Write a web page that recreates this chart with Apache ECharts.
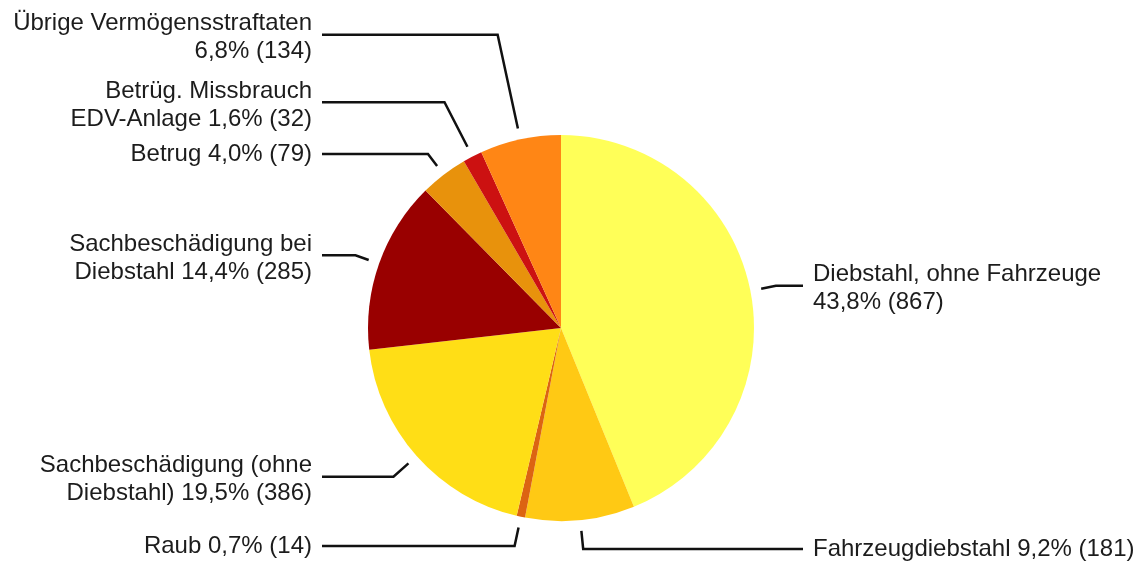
<!DOCTYPE html>
<html>
<head>
<meta charset="utf-8">
<script src="https://cdn.jsdelivr.net/npm/echarts@6/dist/echarts.min.js"></script>
<style>
  html, body { margin: 0; padding: 0; background: #ffffff; }
  #chart { width: 1143px; height: 564px; }
</style>
</head>
<body>
<div id="chart"></div>
<script>
// Offence categories (line break = where the label wraps)
const categories = [
  'Diebstahl, ohne Fahrzeuge',
  'Fahrzeugdiebstahl',
  'Raub',
  'Sachbeschädigung (ohne\nDiebstahl)',
  'Sachbeschädigung bei\nDiebstahl',
  'Betrug',
  'Betrüg. Missbrauch\nEDV-Anlage',
  'Übrige Vermögensstraftaten'
];
// Number of cases per category
const counts = [867, 181, 14, 386, 285, 79, 32, 134];
// Whether the share goes on its own line below the name
const shareOnNewLine = [true, false, false, false, false, false, false, true];

const sliceColors = ['#ffff58', '#ffc914', '#dc6412', '#ffde16', '#990000', '#e8920c', '#cc1111', '#ff8615'];
// radial part of each leader line (px beyond the rim)
const leaderLengths = [26, 29, 30, 31, 25, 26, 61, 107];

const CENTER = [561, 328];
const RADIUS = 193;
const RIM_GAP = 11;          // leader lines start a little outside the rim
const LEFT_TEXT_EDGE = 312;  // right edge of the labels on the left
const RIGHT_TEXT_EDGE = 813; // left edge of the labels on the right
const TEXT_GAP = 10;
const TWO_LINE_SHIFT = 3;    // two-line labels sit slightly below their leader

const total = counts.reduce((s, v) => s + v, 0);
const fmtShare = v => (v / total * 100).toFixed(1).replace('.', ',') + '%';

const data = categories.map((name, i) => ({
  name: name,
  value: counts[i],
  itemStyle: { color: sliceColors[i] },
  labelLine: { length: leaderLengths[i], length2: 20 }
}));

const chart = echarts.init(document.getElementById('chart'), null, { renderer: 'canvas' });
chart.setOption({
  animation: false,
  backgroundColor: '#ffffff',
  series: [{
    type: 'pie',
    center: CENTER,
    radius: RADIUS,
    startAngle: 90,
    clockwise: true,
    avoidLabelOverlap: false,
    silent: true,
    emphasis: { disabled: true },
    data: data,
    label: {
      show: true,
      position: 'outer',
      color: '#1c1c1c',
      fontFamily: 'Liberation Sans, Arial, sans-serif',
      fontSize: 24,
      lineHeight: 28,
      formatter: p => {
        const i = p.dataIndex;
        return p.name + (shareOnNewLine[i] ? '\n' : ' ') + fmtShare(p.value) + ' (' + p.value + ')';
      }
    },
    labelLine: {
      show: true,
      smooth: false,
      lineStyle: { color: '#111111', width: 2.5 }
    },
    labelLayout: function (p) {
      const pts = p.labelLinePoints;
      if (!pts) return {};
      const a = pts[0], b = pts[1];
      const len = Math.hypot(b[0] - a[0], b[1] - a[1]) || 1;
      const ux = (b[0] - a[0]) / len, uy = (b[1] - a[1]) / len;
      const onLeft = ux < 0;
      const start = [a[0] + ux * RIM_GAP, a[1] + uy * RIM_GAP];
      const endX = onLeft ? LEFT_TEXT_EDGE + TEXT_GAP : RIGHT_TEXT_EDGE - TEXT_GAP;
      const twoLines = p.text.indexOf('\n') >= 0;
      return {
        x: onLeft ? LEFT_TEXT_EDGE : RIGHT_TEXT_EDGE,
        y: b[1] + (twoLines ? TWO_LINE_SHIFT : 0),
        align: onLeft ? 'right' : 'left',
        verticalAlign: 'middle',
        labelLinePoints: [start, [b[0], b[1]], [endX, b[1]]]
      };
    }
  }]
});
</script>
</body>
</html>
